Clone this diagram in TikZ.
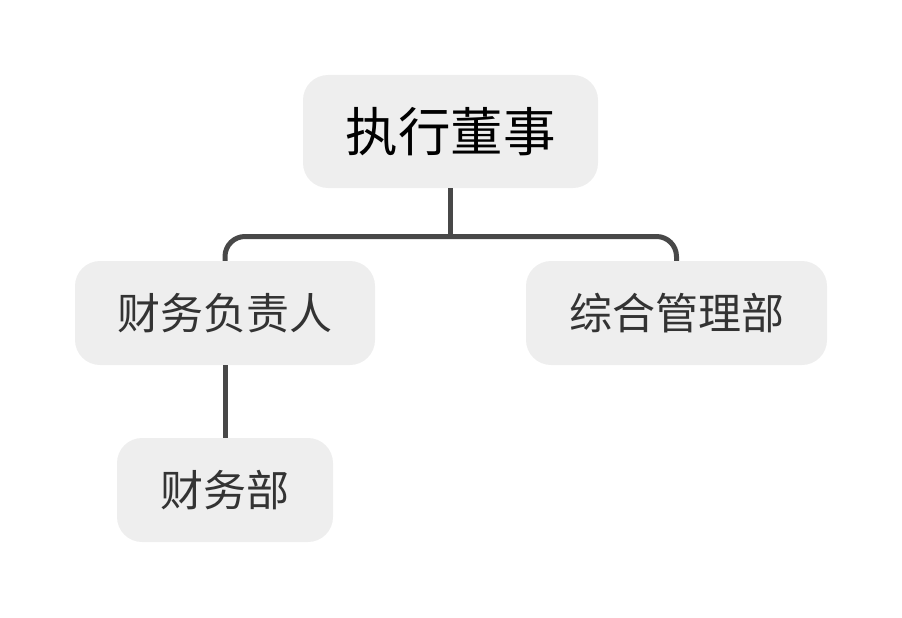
\documentclass[tikz,border=0pt]{standalone}
\usepackage{fontspec}
\setmainfont{Noto Sans CJK SC}
\usetikzlibrary{positioning}
\definecolor{boxgray}{HTML}{EEEEEE}
\definecolor{linegray}{HTML}{484848}
\definecolor{textgray}{HTML}{333333}
\tikzset{
	box/.style={fill=boxgray, rounded corners=25pt, inner sep=0pt, font=\fontsize{43}{45}\selectfont, text=textgray},
	link/.style={draw=linegray, line width=5pt}
}

\begin{document}
\begin{tikzpicture}[x=1pt, y=-1pt]
		\useasboundingbox (0,0) rectangle (902,618);
		
		% Top box
		\node[box, minimum width=295pt, minimum height=113pt, font=\fontsize{52.5}{54}\selectfont, text=black] (director) at (450.5,131.5) {执行董事};
		
		% Second level
		\node[box, minimum width=300pt, minimum height=104pt] (cfo) at (225,313) {财务负责人};
		\node[box, minimum width=301pt, minimum height=104pt] (admin) at (676.5,313) {综合管理部};
		
		% Third level
		\node[box, minimum width=216pt, minimum height=104pt] (finance) at (225,490) {财务部};
		
		% Connectors
		\coordinate (bus) at (450.5,236.5);
		\draw[link] (director.south) -- (bus);
		\draw[link, rounded corners=20pt] (cfo.north) |- (bus) -| (admin.north);
		\draw[link] (cfo.south) -- (finance.north);
	\end{tikzpicture}
\end{document}
